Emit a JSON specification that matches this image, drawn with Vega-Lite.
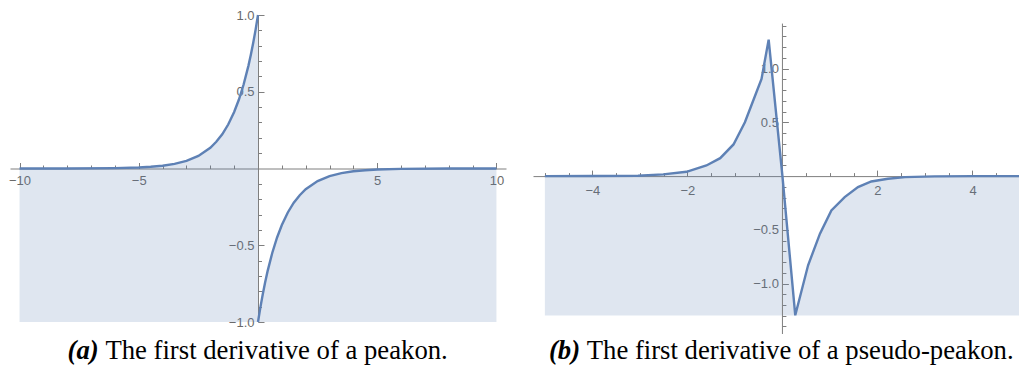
{
  "$schema": "https://vega.github.io/schema/vega-lite/v6.json",
  "padding": {"left": 8, "top": 9, "right": 0, "bottom": 0},
  "bounds": "flush",
  "spacing": 27,
  "config": {
    "view": {"stroke": null},
    "axis": {
      "grid": false,
      "domainColor": "#7f7f7f",
      "domainWidth": 1,
      "tickColor": "#7f7f7f",
      "tickWidth": 1,
      "labelFont": "Liberation Sans",
      "labelFontSize": 13,
      "labelColor": "#6a6a6a",
      "labelFlush": false,
      "labelOverlap": false
    }
  },
  "datasets": {
    "peakon": [
      {"x": -10, "y": 0.0000, "seg": "a"},
      {"x": -8, "y": 0.0003, "seg": "a"},
      {"x": -6, "y": 0.0025, "seg": "a"},
      {"x": -5, "y": 0.0067, "seg": "a"},
      {"x": -4.5, "y": 0.0111, "seg": "a"},
      {"x": -4, "y": 0.0183, "seg": "a"},
      {"x": -3.5, "y": 0.0302, "seg": "a"},
      {"x": -3, "y": 0.0498, "seg": "a"},
      {"x": -2.5, "y": 0.0821, "seg": "a"},
      {"x": -2, "y": 0.1353, "seg": "a"},
      {"x": -1.75, "y": 0.1738, "seg": "a"},
      {"x": -1.5, "y": 0.2231, "seg": "a"},
      {"x": -1.25, "y": 0.2865, "seg": "a"},
      {"x": -1, "y": 0.3679, "seg": "a"},
      {"x": -0.8, "y": 0.4493, "seg": "a"},
      {"x": -0.6, "y": 0.5488, "seg": "a"},
      {"x": -0.4, "y": 0.6703, "seg": "a"},
      {"x": -0.3, "y": 0.7408, "seg": "a"},
      {"x": -0.2, "y": 0.8187, "seg": "a"},
      {"x": -0.1, "y": 0.9048, "seg": "a"},
      {"x": 0, "y": 1.0, "seg": "a"},
      {"x": 0, "y": -1.0, "seg": "b"},
      {"x": 0.1, "y": -0.9048, "seg": "b"},
      {"x": 0.2, "y": -0.8187, "seg": "b"},
      {"x": 0.3, "y": -0.7408, "seg": "b"},
      {"x": 0.4, "y": -0.6703, "seg": "b"},
      {"x": 0.6, "y": -0.5488, "seg": "b"},
      {"x": 0.8, "y": -0.4493, "seg": "b"},
      {"x": 1, "y": -0.3679, "seg": "b"},
      {"x": 1.25, "y": -0.2865, "seg": "b"},
      {"x": 1.5, "y": -0.2231, "seg": "b"},
      {"x": 1.75, "y": -0.1738, "seg": "b"},
      {"x": 2, "y": -0.1353, "seg": "b"},
      {"x": 2.5, "y": -0.0821, "seg": "b"},
      {"x": 3, "y": -0.0498, "seg": "b"},
      {"x": 3.5, "y": -0.0302, "seg": "b"},
      {"x": 4, "y": -0.0183, "seg": "b"},
      {"x": 4.5, "y": -0.0111, "seg": "b"},
      {"x": 5, "y": -0.0067, "seg": "b"},
      {"x": 6, "y": -0.0025, "seg": "b"},
      {"x": 8, "y": -0.0003, "seg": "b"},
      {"x": 10, "y": 0.0000, "seg": "b"}
    ],
    "pseudo": [
      {"x": -5, "y": 0.0},
      {"x": -4, "y": 0.0005},
      {"x": -3.04, "y": 0.004},
      {"x": -2.51, "y": 0.016},
      {"x": -2.02, "y": 0.040},
      {"x": -1.6, "y": 0.099},
      {"x": -1.31, "y": 0.167},
      {"x": -1.03, "y": 0.295},
      {"x": -0.79, "y": 0.502},
      {"x": -0.58, "y": 0.744},
      {"x": -0.44, "y": 0.905},
      {"x": -0.29, "y": 1.271},
      {"x": 0, "y": 0.0},
      {"x": 0.27, "y": -1.296},
      {"x": 0.54, "y": -0.83},
      {"x": 0.79, "y": -0.536},
      {"x": 1.03, "y": -0.319},
      {"x": 1.31, "y": -0.195},
      {"x": 1.59, "y": -0.102},
      {"x": 1.87, "y": -0.05},
      {"x": 2.22, "y": -0.025},
      {"x": 2.58, "y": -0.009},
      {"x": 3.2, "y": -0.002},
      {"x": 4, "y": -0.0005},
      {"x": 5, "y": 0.0}
    ]
  },
  "hconcat": [
    {
      "width": 496,
      "height": 307,
      "layer": [
        {
          "data": {"name": "peakon"},
          "mark": {"type": "area", "color": "#5E81B5", "fillOpacity": 0.2, "strokeWidth": 0},
          "encoding": {
            "x": {
              "field": "x", "type": "quantitative", "title": null,
              "scale": {"domain": [-10.4, 10.4], "nice": false, "zero": false},
              "axis": {
                "orient": "bottom", "offset": -153.5,
                "values": [-10,-9,-8,-7,-6,-5,-4,-3,-2,-1,1,2,3,4,5,6,7,8,9,10],
                "tickCount": 200,
                "tickSize": {"condition": {"test": "datum.value % 5 === 0", "value": -6}, "value": -3.5},
                "labelExpr": "datum.value % 5 === 0 ? format(datum.value, 'd') : ''",
                "labelOverlap": false,
                "labelPadding": 12
              }
            },
            "y": {
              "field": "y", "type": "quantitative", "title": null,
              "scale": {"domain": [-1, 1], "nice": false, "zero": false},
              "axis": {
                "orient": "left", "offset": -248,
                "values": [-1,-0.9,-0.8,-0.7,-0.6,-0.5,-0.4,-0.3,-0.2,-0.1,0.1,0.2,0.3,0.4,0.5,0.6,0.7,0.8,0.9,1],
                "tickCount": 200,
                "tickSize": {"condition": {"test": "abs(datum.value*2 - round(datum.value*2)) < 0.001", "value": -6}, "value": -3.5},
                "labelExpr": "abs(datum.value*2 - round(datum.value*2)) < 0.001 ? format(datum.value, '.1f') : ''",
                "labelOverlap": false,
                "labelPadding": 10
              }
            },
            "y2": {"datum": -1},
            "detail": {"field": "seg"}
          }
        },
        {
          "data": {"name": "peakon"},
          "mark": {"type": "line", "color": "#5E81B5", "strokeWidth": 2.4},
          "encoding": {
            "x": {"field": "x", "type": "quantitative"},
            "y": {"field": "y", "type": "quantitative"},
            "detail": {"field": "seg"}
          }
        },
        {
          "data": {"values": [{"label": "(a)"}]},
          "mark": {"type": "text", "font": "Liberation Serif", "fontSize": 26.7, "fontStyle": "italic", "fontWeight": "bold", "align": "right", "baseline": "alphabetic", "color": "#000000"},
          "encoding": {
            "x": {"datum": -6.68, "type": "quantitative"},
            "y": {"datum": -1.241, "type": "quantitative"},
            "text": {"field": "label"}
          }
        },
        {
          "data": {"values": [{"label": "The first derivative of a peakon."}]},
          "mark": {"type": "text", "font": "Liberation Serif", "fontSize": 26.7, "align": "left", "baseline": "alphabetic", "dx": 6.7, "color": "#000000"},
          "encoding": {
            "x": {"datum": -6.68, "type": "quantitative"},
            "y": {"datum": -1.241, "type": "quantitative"},
            "text": {"field": "label"}
          }
        }
      ]
    },
    {
      "width": 487,
      "height": 319,
      "layer": [
        {
          "data": {"name": "pseudo"},
          "mark": {"type": "area", "color": "#5E81B5", "fillOpacity": 0.2, "strokeWidth": 0},
          "encoding": {
            "x": {
              "field": "x", "type": "quantitative", "title": null,
              "scale": {"domain": [-5.25, 5.0], "nice": false, "zero": false},
              "axis": {
                "orient": "bottom", "offset": -157.9,
                "values": [-5,-4.5,-4,-3.5,-3,-2.5,-2,-1.5,-1,-0.5,0.5,1,1.5,2,2.5,3,3.5,4,4.5,5],
                "tickCount": 200,
                "tickSize": {"condition": {"test": "datum.value % 2 === 0", "value": -6}, "value": -3.5},
                "labelExpr": "datum.value % 2 === 0 ? format(datum.value, 'd') : ''",
                "labelOverlap": false,
                "labelPadding": 14
              }
            },
            "y": {
              "field": "y", "type": "quantitative", "title": null,
              "scale": {"domain": [-1.47, 1.5], "nice": false, "zero": false},
              "axis": {
                "orient": "left", "offset": -249.4,
                "domain": false,
                "values": [-1.4,-1.3,-1.2,-1.1,-1,-0.9,-0.8,-0.7,-0.6,-0.5,-0.4,-0.3,-0.2,-0.1,0.1,0.2,0.3,0.4,0.5,0.6,0.7,0.8,0.9,1,1.1,1.2,1.3,1.4],
                "tickCount": 200,
                "tickSize": {"condition": {"test": "abs(datum.value*2 - round(datum.value*2)) < 0.001", "value": -6}, "value": -3.5},
                "labelExpr": "abs(datum.value*2 - round(datum.value*2)) < 0.001 ? format(datum.value, '.1f') : ''",
                "labelOverlap": false,
                "labelPadding": 10
              }
            },
            "y2": {"datum": -1.297}
          }
        },
        {
          "data": {"values": [{"label": "axis"}]},
          "mark": {"type": "rule", "color": "#7f7f7f", "strokeWidth": 1},
          "encoding": {
            "x": {"datum": 0, "type": "quantitative"},
            "y": {"datum": 1.42, "type": "quantitative"},
            "y2": {"datum": -1.47}
          }
        },
        {
          "data": {"name": "pseudo"},
          "mark": {"type": "line", "color": "#5E81B5", "strokeWidth": 2.4},
          "encoding": {
            "x": {"field": "x", "type": "quantitative"},
            "y": {"field": "y", "type": "quantitative"}
          }
        },
        {
          "data": {"values": [{"label": "(b)"}]},
          "mark": {"type": "text", "font": "Liberation Serif", "fontSize": 26.7, "fontStyle": "italic", "fontWeight": "bold", "align": "right", "baseline": "alphabetic", "color": "#000000"},
          "encoding": {
            "x": {"datum": -4.26, "type": "quantitative"},
            "y": {"datum": -1.703, "type": "quantitative"},
            "text": {"field": "label"}
          }
        },
        {
          "data": {"values": [{"label": "The first derivative of a pseudo-peakon."}]},
          "mark": {"type": "text", "font": "Liberation Serif", "fontSize": 26.7, "align": "left", "baseline": "alphabetic", "dx": 6.7, "color": "#000000"},
          "encoding": {
            "x": {"datum": -4.26, "type": "quantitative"},
            "y": {"datum": -1.703, "type": "quantitative"},
            "text": {"field": "label"}
          }
        }
      ]
    }
  ]
}
